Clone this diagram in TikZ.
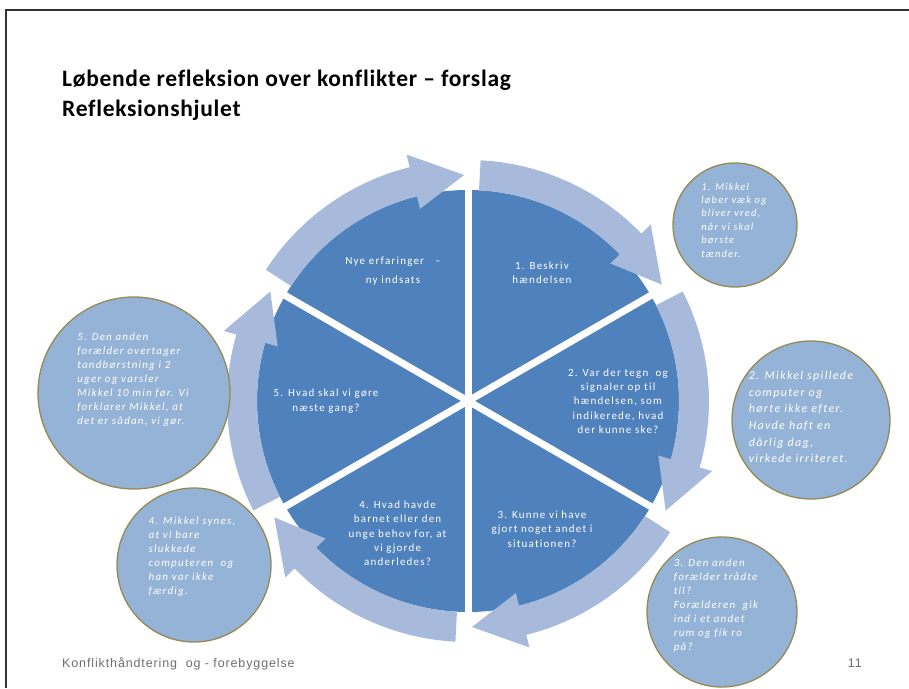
\documentclass[tikz,border=0pt]{standalone}
\usepackage{fontspec}
\setmainfont{Carlito}
\newfontfamily\widefont{Carlito}[LetterSpace=11, Ligatures=NoCommon]
\newfontfamily\titlefont{Carlito}[LetterSpace=3, Ligatures=NoCommon]
\newfontfamily\footfont{Liberation Sans}[LetterSpace=7]
\usetikzlibrary{positioning}
\definecolor{wheelblue}{RGB}{79,129,189}
\definecolor{ringblue}{RGB}{167,186,219}
\definecolor{bubbleblue}{RGB}{149,179,215}
\definecolor{bubbleedge}{RGB}{148,138,84}
\definecolor{footgray}{RGB}{110,110,110}

\begin{document}
\begin{tikzpicture}[x=1pt,y=1pt,
  bubble/.style={circle, draw=bubbleedge, fill=bubbleblue, line width=1.3pt, inner sep=0pt},
  bubbletext/.style={text=white, align=left, font=\widefont\fontsize{11}{14}\selectfont\itshape},
  sectortext/.style={text=white, align=center, font=\widefont\fontsize{11}{14.3}\selectfont}]
  \useasboundingbox (0,0) rectangle (909,688);
  % frame of the slide
  \draw[line width=1.5pt, black!80] (6,0) -- (6,678) -- (909,678);
  % title
  \node[anchor=base west, inner sep=0pt, font=\titlefont\fontsize{23.5}{26}\selectfont\bfseries] (title) at (62,601) {Løbende refleksion over konflikter – forslag};
  \node[anchor=base west, inner sep=0pt, font=\titlefont\fontsize{23.5}{26}\selectfont\bfseries] (subtitle) at (62,571) {Refleksionshjulet};

  % the wheel
  \coordinate (hub) at (468,287);
  \begin{scope}[shift={(hub)}]
    \fill[wheelblue] (0,0) circle[radius=211];
    \foreach \a in {30,90,...,330}
      \draw[white, line width=7pt] (0,0) -- (\a:213);
    \foreach \i in {0,...,5} {
      \pgfmathsetmacro\as{147-60*\i}
      \pgfmathsetmacro\at{91-60*\i}
      \pgfmathsetmacro\ah{\at+13}
      \fill[ringblue] (\as:211) arc[start angle=\as, end angle=\ah, radius=211]
        -- (\ah:198) -- (\at:226) -- (\ah:254) -- (\ah:241)
        arc[start angle=\ah, end angle=\as, radius=241] -- cycle;
    }
    \node[sectortext] (s0) at (120:150) {Nye erfaringer \ \ –\\[5pt] ny indsats};
    \node[sectortext] (s1) at (60:148) {1. Beskriv\\hændelsen};
    \node[sectortext] (s2) at (0:150) {2. Var der tegn \ og\\signaler op til\\hændelsen, som\\indikerede, hvad\\der kunne ske?};
    \node[sectortext] (s3) at (-60:148) {3. Kunne vi have\\gjort noget andet i\\situationen?};
    \node[sectortext] (s4) at (-118:150) {4. Hvad havde\\barnet eller den\\unge behov for, at\\vi gjorde\\anderledes?};
    \node[sectortext] (s5) at (180:142) {5. Hvad skal vi gøre\\næste gang?};
  \end{scope}

  % example bubbles
  \node[bubble, minimum size=124] (b1) at (735,463) {};
  \node[bubbletext, font=\widefont\fontsize{10.5}{13.4}\selectfont\itshape] (t1) at (734,468) {1. Mikkel\\løber væk og\\bliver vred,\\når vi skal\\børste\\tænder.};
  \node[bubble, minimum size=158] (b2) at (811,268) {};
  \node[bubbletext, font=\widefont\fontsize{12}{16.6}\selectfont\itshape] (t2) at (801,271) {2. Mikkel spillede\\computer og\\hørte ikke efter.\\Havde haft en\\dårlig dag,\\virkede irriteret.};
  \node[bubble, minimum size=150] (b3) at (722,76) {};
  \node[bubbletext] (t3) at (716,82) {3. Den anden\\forælder trådte\\til?\\Forælderen \ gik\\ind i et andet\\rum og fik ro\\på?};
  \node[bubble, minimum size=154] (b4) at (194,123) {};
  \node[bubbletext] (t4) at (192,131) {4. Mikkel synes,\\at vi bare\\slukkede\\computeren \ og\\han var ikke\\færdig.};
  \node[bubble, minimum size=192] (b5) at (134,295) {};
  \node[bubbletext] (t5) at (133,308) {5. Den anden\\forælder overtager\\tandbørstning i 2\\uger og varsler\\Mikkel 10 min før. Vi\\forklarer Mikkel, at\\det er sådan, vi gør.};

  % footer
  \node[anchor=base west, inner sep=0pt, text=footgray, font=\footfont\fontsize{12.5}{14}\selectfont] (foot) at (62,21) {Konflikthåndtering \ og - forebyggelse};
  \node[anchor=base east, inner sep=0pt, text=footgray, font=\footfont\fontsize{12.5}{14}\selectfont] (pagenum) at (862,21) {11};
\end{tikzpicture}
\end{document}
